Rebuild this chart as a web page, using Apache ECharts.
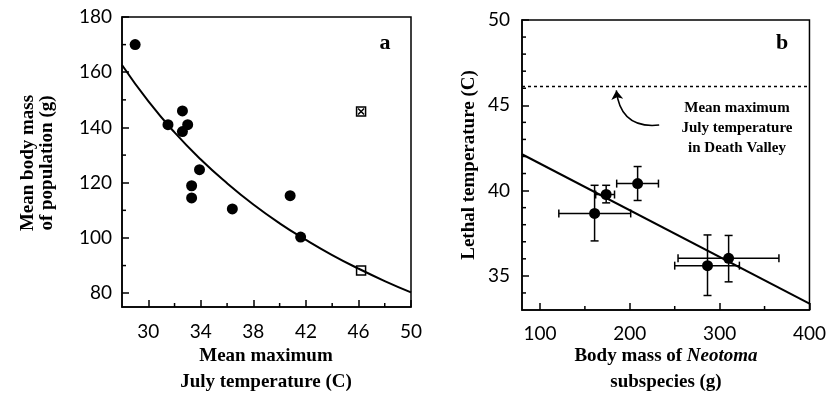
<!DOCTYPE html>
<html>
<head>
<meta charset="utf-8">
<script src="https://cdn.jsdelivr.net/npm/echarts@6/dist/echarts.min.js"></script>
<style>
  html, body { margin: 0; padding: 0; background: #fff; }
  #main { width: 829px; height: 404px; }
</style>
</head>
<body>
<div id="main"></div>
<script>
// panel a: body mass vs. July temperature
var tempA = [29.0, 31.5, 32.6, 33.0, 32.6, 33.9, 33.3, 33.3, 36.4, 40.8, 41.6];
var massA = [170, 141, 146, 141, 138.5, 124.7, 118.9, 114.5, 110.5, 115.3, 100.3];
var openSq = [46.2, 88.2];
var crossSq = [46.2, 145.8];
var curveT = [28, 30, 32, 34, 36, 38, 40, 42, 44, 46, 48, 50];
var curveM = [162.6, 149.5, 138.2, 128.4, 119.8, 112.1, 105.3, 99.3, 93.8, 88.9, 84.4, 80.3];
var ticksAx = [30, 34, 38, 42, 46, 50];
var minorAx = [32, 36, 40, 44, 48];
var ticksAy = [80, 100, 120, 140, 160, 180];
var minorAy = [90, 110, 130, 150, 170];

// panel b: lethal temperature vs. body mass
var massB = [160.8, 173.7, 208.7, 286.5, 310.0];
var lethal = [38.66, 39.77, 40.41, 35.6, 36.03];
var massLo = [121, 162, 185.4, 250, 253.7];
var massHi = [201, 183, 231.9, 322, 366];
var lethalLo = [37.05, 39.28, 39.42, 33.85, 34.65];
var lethalHi = [40.31, 40.31, 41.41, 37.4, 37.37];
var fitMass = [80, 400];
var fitLethal = [42.13, 33.37];
var dvTemp = 46.1;
var arrowFrom = [232.7, 43.84];
var arrowTo = [185, 45.87];
var ticksBx = [100, 200, 300, 400];
var minorBx = [150, 250, 350];
var ticksBy = [35, 40, 45, 50];
var minorBy = [34, 36, 37, 38, 39, 41, 42, 43, 44, 46, 47, 48, 49];

var rangeA = {x: [28, 50], y: [75, 180]};
var rangeB = {x: [80, 400], y: [33, 50]};

var tickFont = {color: '#000', fontFamily: 'Lato', fontSize: 19};
var serif = 'Liberation Serif';

function valueAxis(grid, min, max, ticks, margin) {
    return {
        type: 'value', gridIndex: grid, min: min, max: max,
        axisLine: {show: true, onZero: false, lineStyle: {color: '#000', width: 1.5}},
        axisTick: {show: true, inside: true, length: 7, customValues: ticks,
                   lineStyle: {color: '#000', width: 1.5}},
        axisLabel: Object.assign({show: true, margin: margin, customValues: ticks}, tickFont),
        splitLine: {show: false}
    };
}

function pairs(xs, ys) {
    return xs.map(function (x, i) { return [x, ys[i]]; });
}

// minor tick rows: [x, y, 0 = on x axis / 1 = on y axis]
function minorRows(range, xMin, yMin) {
    var rows = [];
    xMin.forEach(function (v) { rows.push([v, range.y[0], 0]); });
    yMin.forEach(function (v) { rows.push([range.x[0], v, 1]); });
    return rows;
}

function minorSeries(idx, rows) {
    return {
        type: 'custom', xAxisIndex: idx, yAxisIndex: idx, clip: false, z: 5, silent: true,
        data: rows,
        renderItem: function (params, api) {
            var p = api.coord([api.value(0), api.value(1)]);
            var len = 4;
            var st = {stroke: '#000', lineWidth: 1.5};
            if (api.value(2) === 0) {
                return {type: 'line', shape: {x1: p[0], y1: p[1], x2: p[0], y2: p[1] - len}, style: st};
            }
            return {type: 'line', shape: {x1: p[0], y1: p[1], x2: p[0] + len, y2: p[1]}, style: st};
        }
    };
}

var errData = massB.map(function (m, i) {
    return [m, lethal[i], massLo[i], massHi[i], lethalLo[i], lethalHi[i]];
});

var myChart = echarts.init(document.getElementById('main'));
var option = {
    backgroundColor: '#fff',
    animation: false,
    grid: [
        {left: 122, top: 17, width: 289, height: 290, show: true, borderColor: '#000', borderWidth: 1.5},
        {left: 522, top: 20, width: 289, height: 290, show: true, borderColor: '#000', borderWidth: 1.5}
    ],
    xAxis: [
        valueAxis(0, rangeA.x[0], rangeA.x[1], ticksAx, 15),
        valueAxis(1, rangeB.x[0], rangeB.x[1], ticksBx, 14)
    ],
    yAxis: [
        valueAxis(0, rangeA.y[0], rangeA.y[1], ticksAy, 10),
        valueAxis(1, rangeB.y[0], rangeB.y[1], ticksBy, 12)
    ],
    series: [
        minorSeries(0, minorRows(rangeA, minorAx, minorAy)),
        minorSeries(1, minorRows(rangeB, minorBx, minorBy)),
        {
            type: 'line', xAxisIndex: 0, yAxisIndex: 0, smooth: true, showSymbol: false,
            data: pairs(curveT, curveM),
            lineStyle: {color: '#000', width: 2}
        },
        {
            type: 'scatter', xAxisIndex: 0, yAxisIndex: 0, symbolSize: 11,
            data: pairs(tempA, massA),
            itemStyle: {color: '#000', opacity: 1}
        },
        {
            type: 'scatter', xAxisIndex: 0, yAxisIndex: 0, symbol: 'rect', symbolSize: 9,
            data: [openSq, crossSq],
            itemStyle: {color: '#fff', borderColor: '#000', borderWidth: 1.5, opacity: 1}
        },
        {
            type: 'scatter', xAxisIndex: 0, yAxisIndex: 0,
            symbol: 'path://M0,0L10,10M10,0L0,10', symbolSize: 6,
            data: [crossSq],
            itemStyle: {color: 'none', borderColor: '#000', borderWidth: 1.5, opacity: 1}
        },
        {
            type: 'line', xAxisIndex: 1, yAxisIndex: 1, showSymbol: false,
            data: pairs(fitMass, fitLethal),
            lineStyle: {color: '#000', width: 2}
        },
        {
            type: 'line', xAxisIndex: 1, yAxisIndex: 1, showSymbol: false,
            data: [[rangeB.x[0], dvTemp], [rangeB.x[1], dvTemp]],
            lineStyle: {color: '#000', width: 1.5, type: [3, 3]}
        },
        {
            type: 'lines', coordinateSystem: 'cartesian2d', xAxisIndex: 1, yAxisIndex: 1,
            symbol: ['none', 'arrow'], symbolSize: 9,
            data: [{coords: [arrowFrom, arrowTo]}],
            lineStyle: {color: '#000', width: 1.5, curveness: 0.5, opacity: 1}
        },
        {
            type: 'custom', xAxisIndex: 1, yAxisIndex: 1,
            data: errData,
            renderItem: function (params, api) {
                var c = api.coord([api.value(0), api.value(1)]);
                var l = api.coord([api.value(2), api.value(1)]);
                var r = api.coord([api.value(3), api.value(1)]);
                var b = api.coord([api.value(0), api.value(4)]);
                var t = api.coord([api.value(0), api.value(5)]);
                var cap = 4;
                var st = {stroke: '#000', lineWidth: 1.5};
                function seg(x1, y1, x2, y2) {
                    return {type: 'line', shape: {x1: x1, y1: y1, x2: x2, y2: y2}, style: st};
                }
                return {
                    type: 'group',
                    children: [
                        seg(l[0], l[1], r[0], r[1]),
                        seg(l[0], l[1] - cap, l[0], l[1] + cap),
                        seg(r[0], r[1] - cap, r[0], r[1] + cap),
                        seg(b[0], b[1], t[0], t[1]),
                        seg(b[0] - cap, b[1], b[0] + cap, b[1]),
                        seg(t[0] - cap, t[1], t[0] + cap, t[1]),
                        {type: 'circle', shape: {cx: c[0], cy: c[1], r: 5.5}, style: {fill: '#000'}}
                    ]
                };
            }
        }
    ],
    graphic: [
        {type: 'text', x: 385, y: 43, style: {text: 'a', font: 'bold 22px "Liberation Serif"', fill: '#000', align: 'center', verticalAlign: 'middle'}},
        {type: 'text', x: 782, y: 43, style: {text: 'b', font: 'bold 22px "Liberation Serif"', fill: '#000', align: 'center', verticalAlign: 'middle'}},
        {type: 'text', x: 28, y: 163, rotation: Math.PI / 2, style: {text: 'Mean body mass', font: 'bold 19px "Liberation Serif"', fill: '#000', align: 'center', verticalAlign: 'middle'}},
        {type: 'text', x: 47, y: 163, rotation: Math.PI / 2, style: {text: 'of population (g)', font: 'bold 19px "Liberation Serif"', fill: '#000', align: 'center', verticalAlign: 'middle'}},
        {type: 'text', x: 469, y: 165, rotation: Math.PI / 2, style: {text: 'Lethal temperature (C)', font: 'bold 19px "Liberation Serif"', fill: '#000', align: 'center', verticalAlign: 'middle'}},
        {type: 'text', x: 266, y: 356, style: {text: 'Mean maximum', font: 'bold 19px "Liberation Serif"', fill: '#000', align: 'center', verticalAlign: 'middle'}},
        {type: 'text', x: 266, y: 382, style: {text: 'July temperature (C)', font: 'bold 19px "Liberation Serif"', fill: '#000', align: 'center', verticalAlign: 'middle'}},
        {type: 'text', x: 666, y: 356, style: {
            text: '{n|Body mass of }{i|Neotoma}', align: 'center', verticalAlign: 'middle',
            rich: {
                n: {fontFamily: serif, fontWeight: 'bold', fontSize: 19, fill: '#000'},
                i: {fontFamily: serif, fontWeight: 'bold', fontStyle: 'italic', fontSize: 19, fill: '#000'}
            }
        }},
        {type: 'text', x: 666, y: 382, style: {text: 'subspecies (g)', font: 'bold 19px "Liberation Serif"', fill: '#000', align: 'center', verticalAlign: 'middle'}},
        {type: 'text', x: 737, y: 108, style: {text: 'Mean maximum', font: 'bold 15px "Liberation Serif"', fill: '#000', align: 'center', verticalAlign: 'middle'}},
        {type: 'text', x: 737, y: 128, style: {text: 'July temperature', font: 'bold 15px "Liberation Serif"', fill: '#000', align: 'center', verticalAlign: 'middle'}},
        {type: 'text', x: 737, y: 148, style: {text: 'in Death Valley', font: 'bold 15px "Liberation Serif"', fill: '#000', align: 'center', verticalAlign: 'middle'}}
    ]
};
if (option && typeof option == "object") {
    myChart.setOption(option, true);
}
</script>
</body>
</html>
